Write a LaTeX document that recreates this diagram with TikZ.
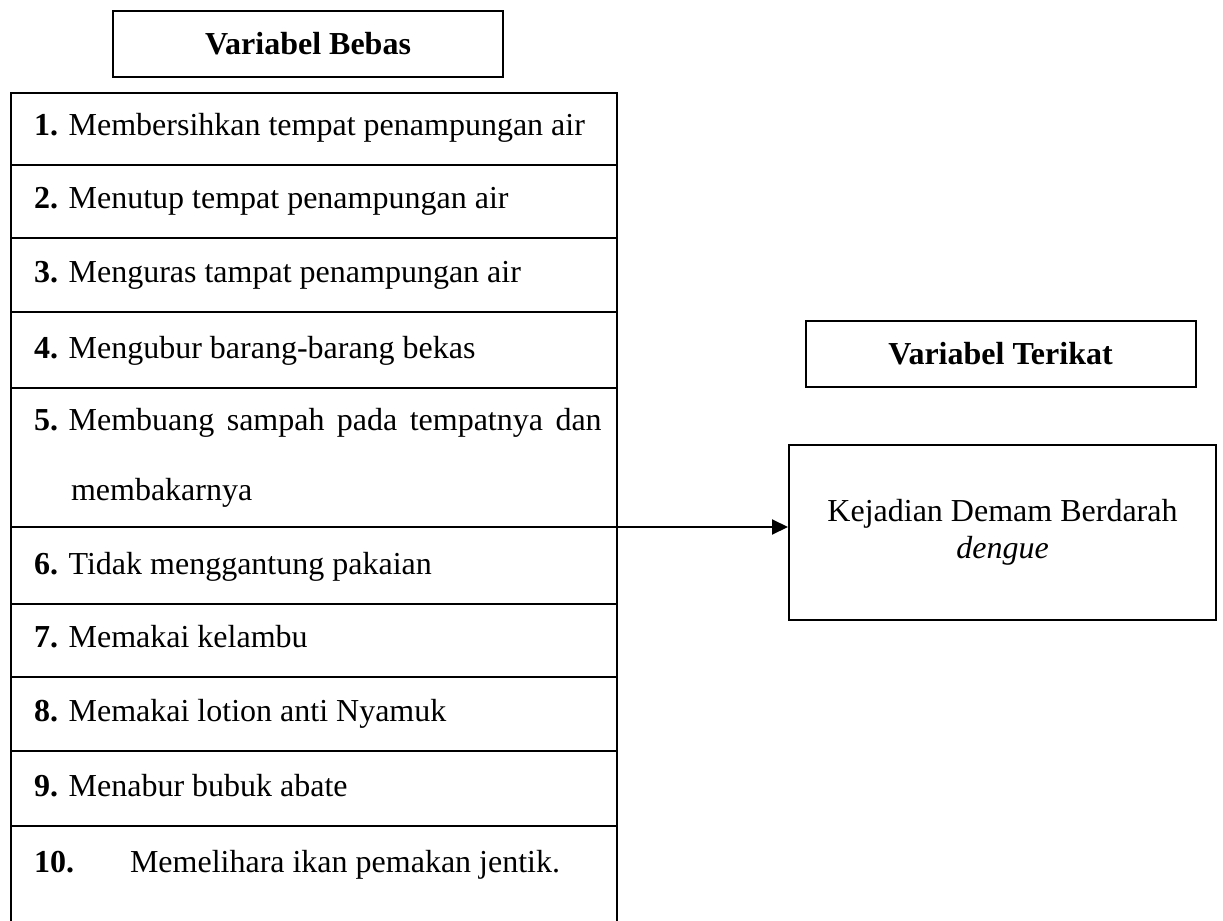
\documentclass[tikz,border=0pt]{standalone}
\usepackage{fontspec}
\setmainfont{Liberation Serif}
\usetikzlibrary{arrows.meta}

\begin{document}
\begin{tikzpicture}[x=0.5pt,y=-0.5pt,line width=1pt,
  font=\fontsize{16}{18.4}\selectfont,
  >={Triangle[length=8pt,width=7.5pt]},
  judul/.style={draw,minimum width=195pt,minimum height=33pt,inner sep=0pt,font=\fontsize{16}{18.4}\selectfont\bfseries},
  butir/.style={anchor=base west,inner sep=0pt}]
  \useasboundingbox (0,0) rectangle (1223,921);

  % Variabel Bebas
  \node[judul] (bebas) at (308,44) {Variabel Bebas};
  \draw (11,921) |- (617,93) -- (617,921);
  \foreach \y in {165,238,312,388,527,604,677,751,826} {
    \draw (11,\y) -- (617,\y);
  }
  \node[butir] (b1) at (33,135) {\textbf{1.} Membersihkan tempat penampungan air};
  \node[butir] (b2) at (33,208) {\textbf{2.} Menutup tempat penampungan air};
  \node[butir] (b3) at (33,282) {\textbf{3.} Menguras tampat penampungan air};
  \node[butir] (b4) at (33,358) {\textbf{4.} Mengubur barang-barang bekas};
  \node[butir] (b5) at (33,430) {\textbf{5.} \makebox[266.5pt][s]{Membuang sampah pada tempatnya dan}};
  \node[butir] (b5b) at (70,500) {membakarnya};
  \node[butir] (b6) at (33,574) {\textbf{6.} Tidak menggantung pakaian};
  \node[butir] (b7) at (33,647) {\textbf{7.} Memakai kelambu};
  \node[butir] (b8) at (33,721) {\textbf{8.} Memakai lotion anti Nyamuk};
  \node[butir] (b9) at (33,796) {\textbf{9.} Menabur bubuk abate};
  \node[butir] (b10) at (33,872) {\makebox[48pt][l]{\textbf{10.}}Memelihara ikan pemakan jentik.};
  \coordinate (lepas) at (617,527);

  % Variabel Terikat
  \node[judul] (terikat) at (1000.5,354) {Variabel Terikat};
  \node[draw,minimum width=213.5pt,minimum height=87.5pt,align=center] (hasil) at (1002.5,532.5) {Kejadian Demam Berdarah\\\textit{dengue}};
  \draw[->] (lepas) -- (lepas -| hasil.west);
\end{tikzpicture}
\end{document}
